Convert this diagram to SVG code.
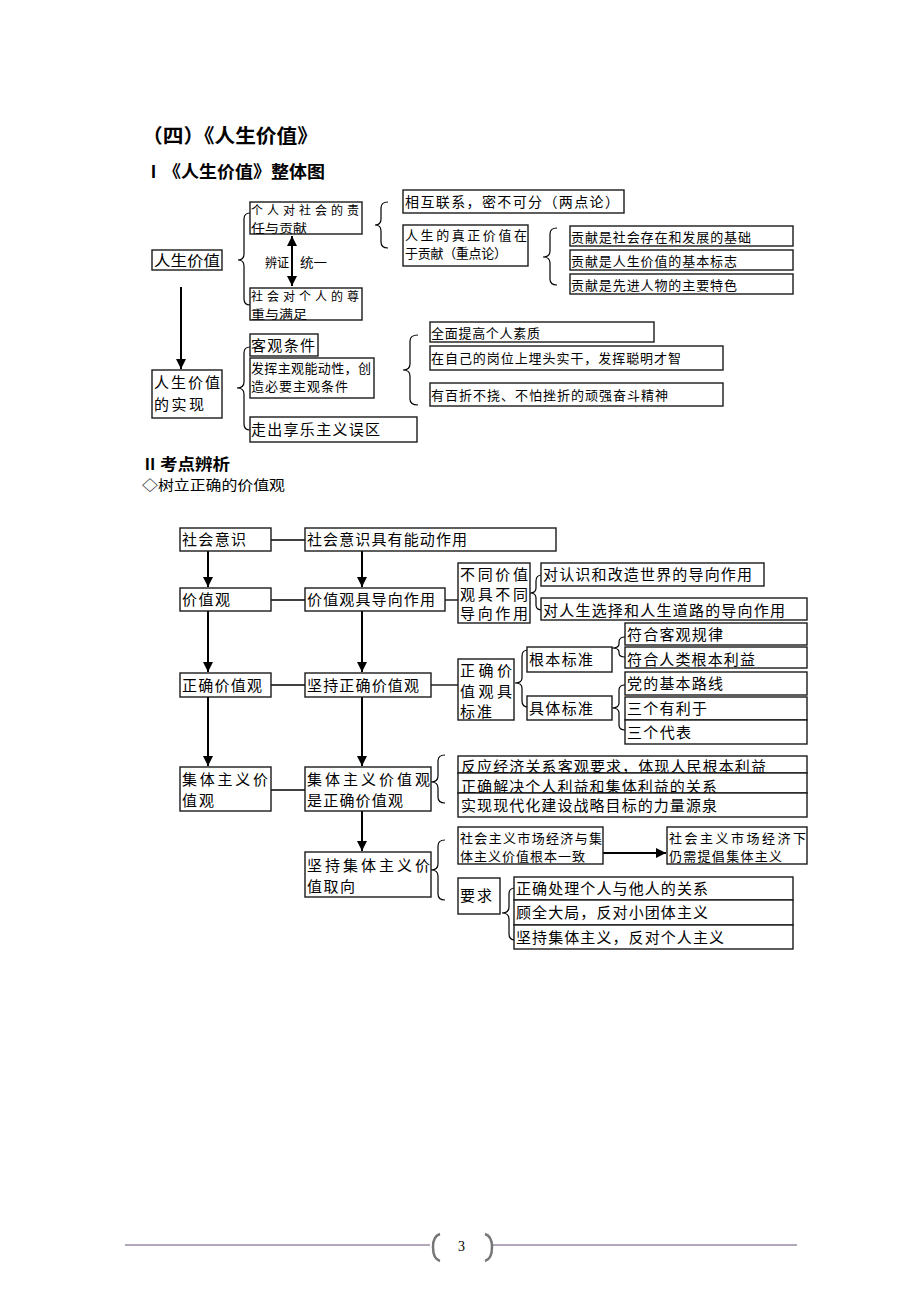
<svg xmlns="http://www.w3.org/2000/svg" width="920" height="1302" viewBox="0 0 920 1302">
<defs>
<style>
.bx{fill:#fff;stroke:#1a1a1a;stroke-width:1.4}
.t{font-family:"Noto Sans CJK SC",sans-serif;fill:#000}
.s12{font-size:12px}
.s13{font-size:13px}
.s14{font-size:14px}
.s15{font-size:15px}
.ln{fill:none;stroke:#000;stroke-width:1.3}
.ar{fill:none;stroke:#000;stroke-width:2}
.br{fill:none;stroke:#000;stroke-width:1.2}
.h{font-family:"Noto Sans CJK SC",sans-serif;font-weight:bold;fill:#000}
.rn{font-family:"Liberation Serif","Noto Sans CJK SC",serif;font-weight:bold;fill:#000}
</style>
<marker id="ah" viewBox="0 0 10 10" refX="10" refY="5" markerWidth="5" markerHeight="5" orient="auto" markerUnits="strokeWidth"><path d="M0,0 L10,5 L0,10 z" fill="#000"/></marker>
<marker id="ahs" viewBox="0 0 10 10" refX="10" refY="5" markerWidth="5" markerHeight="5" orient="auto-start-reverse" markerUnits="strokeWidth"><path d="M0,0 L10,5 L0,10 z" fill="#000"/></marker>
</defs>
<rect width="920" height="1302" fill="#fff"/>

<g id="headings">
<text class="h" x="142" y="143" font-size="19.5" textLength="176" lengthAdjust="spacingAndGlyphs">（四）《人生价值》</text>
<text class="rn" x="145" y="178" font-size="17">Ⅰ</text>
<text class="h" x="163" y="178" font-size="17" textLength="162" lengthAdjust="spacingAndGlyphs">《人生价值》整体图</text>
<text class="rn" x="142" y="470" font-size="16">Ⅱ</text>
<text class="h" x="160" y="470" font-size="16" textLength="70" lengthAdjust="spacingAndGlyphs">考点辨析</text>
<text class="t s14" x="142" y="490" textLength="143" lengthAdjust="spacingAndGlyphs">◇树立正确的价值观</text>
</g>

<g id="connectors">
<line class="ar" x1="292" y1="236" x2="292" y2="286" marker-start="url(#ahs)" marker-end="url(#ah)"/>
<line class="ar" x1="181" y1="287" x2="181" y2="369" marker-end="url(#ah)"/>
<line class="ar" x1="208" y1="551" x2="208" y2="587" marker-end="url(#ah)"/>
<line class="ar" x1="208" y1="611" x2="208" y2="672" marker-end="url(#ah)"/>
<line class="ar" x1="208" y1="697" x2="208" y2="766" marker-end="url(#ah)"/>
<line class="ar" x1="362" y1="551" x2="362" y2="587" marker-end="url(#ah)"/>
<line class="ar" x1="362" y1="611" x2="362" y2="672" marker-end="url(#ah)"/>
<line class="ar" x1="362" y1="697" x2="362" y2="766" marker-end="url(#ah)"/>
<line class="ar" x1="362" y1="811" x2="362" y2="851" marker-end="url(#ah)"/>
<line class="ln" x1="271" y1="540" x2="305" y2="540"/>
<line class="ln" x1="271" y1="600" x2="305" y2="600"/>
<line class="ln" x1="445" y1="600" x2="458" y2="600"/>
<line class="ln" x1="271" y1="685" x2="305" y2="685"/>
<line class="ln" x1="431" y1="685" x2="458" y2="685"/>
<line class="ln" x1="271" y1="790" x2="305" y2="790"/>
<line class="ar" x1="598" y1="853" x2="666" y2="853" marker-end="url(#ah)"/>
<g id="braces">
<path class="br" d="M250,213 Q244,213 244,219 L244,254 Q244,260 238,260 Q244,260 244,266 L244,299 Q244,305 250,305"/>
<path class="br" d="M388,202 Q381,202 381,208 L381,219 Q381,225 375,225 Q381,225 381,231 L381,242 Q381,248 388,248"/>
<path class="br" d="M557,228 Q550,228 550,234 L550,251 Q550,257 543,257 Q550,257 550,263 L550,279 Q550,285 557,285"/>
<path class="br" d="M250,347 Q244,347 244,353 L244,382 Q244,388 237,388 Q244,388 244,394 L244,424 Q244,430 250,430"/>
<path class="br" d="M418,335 Q410,335 410,341 L410,364 Q410,370 403,370 Q410,370 410,376 L410,399 Q410,405 418,405"/>
<path class="br" d="M542,575 Q536,575 536,581 L536,588 Q536,593 530,593 Q536,593 536,598 L536,605 Q536,610 542,610"/>
<path class="br" d="M528,650 Q522,650 522,656 L522,678 Q522,683 515,683 Q522,683 522,688 L522,701 Q522,707 528,707"/>
<path class="br" d="M625,637 Q619,637 619,642 L619,644 Q619,648 612,648 Q619,648 619,652 L619,653 Q619,657 625,657"/>
<path class="br" d="M625,685 Q619,685 619,690 L619,703 Q619,708 612,708 Q619,708 619,713 L619,725 Q619,730 625,730"/>
<path class="br" d="M445,755 Q438,755 438,761 L438,776 Q438,782 431,782 Q438,782 438,788 L438,797 Q438,803 445,803"/>
<path class="br" d="M445,840 Q438,840 438,846 L438,864 Q438,870 431,870 Q438,870 438,876 L438,894 Q438,900 445,900"/>
<path class="br" d="M515,888 Q509,888 509,894 L509,907 Q509,913 502,913 Q509,913 509,919 L509,934 Q509,940 515,940"/>
</g>
</g>

<g id="n-rsjz">
<rect class="bx" x="152" y="250" width="70" height="20"/>
<text class="t s15" x="154" y="266" textLength="66" lengthAdjust="spacingAndGlyphs">人生价值</text>
</g>
<g id="n-grdsh">
<rect class="bx" x="250" y="202" width="112" height="32"/>
<text class="t s12" x="251" y="215" textLength="108" lengthAdjust="spacing">个人对社会的责</text>
<text class="t s12" x="251" y="233" textLength="56" lengthAdjust="spacingAndGlyphs">任与贡献</text>
</g>
<g id="n-bzty">
<text class="t s13" x="265" y="267" textLength="24" lengthAdjust="spacingAndGlyphs">辨证</text>
<text class="t s13" x="300" y="267" textLength="27" lengthAdjust="spacingAndGlyphs">统一</text>
</g>
<g id="n-shdgr">
<rect class="bx" x="250" y="288" width="112" height="32"/>
<text class="t s12" x="251" y="301" textLength="108" lengthAdjust="spacing">社会对个人的尊</text>
<text class="t s12" x="251" y="319" textLength="56" lengthAdjust="spacingAndGlyphs">重与满足</text>
</g>
<g id="n-xhlx">
<rect class="bx" x="403" y="190" width="221" height="23"/>
<text class="t s14" x="405" y="207" textLength="214" lengthAdjust="spacing">相互联系，密不可分（两点论）</text>
</g>
<g id="n-zzjz">
<rect class="bx" x="403" y="225" width="125" height="41"/>
<text class="t s13" x="405" y="240" textLength="122" lengthAdjust="spacing">人生的真正价值在</text>
<text class="t s13" x="405" y="258" textLength="102" lengthAdjust="spacing">于贡献（重点论）</text>
</g>
<g id="n-gx1">
<rect class="bx" x="570" y="226" width="223" height="20"/>
<text class="t s13" x="571" y="242" textLength="180" lengthAdjust="spacing">贡献是社会存在和发展的基础</text>
</g>
<g id="n-gx2">
<rect class="bx" x="570" y="250" width="223" height="20"/>
<text class="t s13" x="571" y="266" textLength="166" lengthAdjust="spacing">贡献是人生价值的基本标志</text>
</g>
<g id="n-gx3">
<rect class="bx" x="570" y="274" width="223" height="20"/>
<text class="t s13" x="571" y="290" textLength="166" lengthAdjust="spacing">贡献是先进人物的主要特色</text>
</g>

<g id="n-sx">
<rect class="bx" x="152" y="370" width="70" height="48"/>
<text class="t s15" x="154" y="388" textLength="66" lengthAdjust="spacing">人生价值</text>
<text class="t s15" x="154" y="410" textLength="50" lengthAdjust="spacing">的实现</text>
</g>
<g id="n-kgtj">
<rect class="bx" x="250" y="334" width="68" height="22"/>
<text class="t s15" x="251" y="351" textLength="64" lengthAdjust="spacing">客观条件</text>
</g>
<g id="n-zgtj">
<rect class="bx" x="250" y="358" width="124" height="40"/>
<text class="t s13" x="251" y="373" textLength="120" lengthAdjust="spacing">发挥主观能动性，创</text>
<text class="t s13" x="251" y="391" textLength="97" lengthAdjust="spacing">造必要主观条件</text>
</g>
<g id="n-xlzy">
<rect class="bx" x="250" y="417" width="167" height="25"/>
<text class="t s15" x="251" y="435" textLength="129" lengthAdjust="spacing">走出享乐主义误区</text>
</g>
<g id="n-qmtg">
<rect class="bx" x="430" y="322" width="224" height="20"/>
<text class="t s13" x="431" y="338" textLength="109" lengthAdjust="spacing">全面提高个人素质</text>
</g>
<g id="n-mtsg">
<rect class="bx" x="430" y="346" width="293" height="24"/>
<text class="t s13" x="431" y="363" textLength="250" lengthAdjust="spacing">在自己的岗位上埋头实干，发挥聪明才智</text>
</g>
<g id="n-bzbn">
<rect class="bx" x="430" y="383" width="293" height="23"/>
<text class="t s13" x="431" y="400" textLength="237" lengthAdjust="spacing">有百折不挠、不怕挫折的顽强奋斗精神</text>
</g>

<g id="n-shys">
<rect class="bx" x="180" y="528" width="91" height="23"/>
<text class="t s15" x="182" y="545" textLength="64" lengthAdjust="spacing">社会意识</text>
</g>
<g id="n-shysnd">
<rect class="bx" x="305" y="528" width="251" height="23"/>
<text class="t s15" x="307" y="545" textLength="160" lengthAdjust="spacing">社会意识具有能动作用</text>
</g>
<g id="n-jzg">
<rect class="bx" x="180" y="588" width="91" height="23"/>
<text class="t s15" x="182" y="605" textLength="48" lengthAdjust="spacing">价值观</text>
</g>
<g id="n-jzgdx">
<rect class="bx" x="305" y="588" width="140" height="23"/>
<text class="t s15" x="307" y="605" textLength="128" lengthAdjust="spacing">价值观具导向作用</text>
</g>
<g id="n-btjz">
<rect class="bx" x="458" y="563" width="72" height="60"/>
<text class="t s15" x="460" y="580" textLength="68" lengthAdjust="spacing">不同价值</text>
<text class="t s15" x="460" y="600" textLength="68" lengthAdjust="spacing">观具不同</text>
<text class="t s15" x="460" y="619" textLength="68" lengthAdjust="spacing">导向作用</text>
</g>
<g id="n-dx1">
<rect class="bx" x="541" y="563" width="223" height="23"/>
<text class="t s15" x="543" y="580" textLength="209" lengthAdjust="spacing">对认识和改造世界的导向作用</text>
</g>
<g id="n-dx2">
<rect class="bx" x="541" y="598" width="266" height="22"/>
<text class="t s15" x="543" y="616" textLength="242" lengthAdjust="spacing">对人生选择和人生道路的导向作用</text>
</g>
<g id="n-zqjzg">
<rect class="bx" x="180" y="673" width="91" height="24"/>
<text class="t s15" x="182" y="691" textLength="80" lengthAdjust="spacing">正确价值观</text>
</g>
<g id="n-jczq">
<rect class="bx" x="305" y="673" width="126" height="24"/>
<text class="t s15" x="307" y="691" textLength="112" lengthAdjust="spacing">坚持正确价值观</text>
</g>
<g id="n-bz">
<rect class="bx" x="458" y="659" width="56" height="61"/>
<text class="t s15" x="460" y="676" textLength="52" lengthAdjust="spacing">正确价</text>
<text class="t s15" x="460" y="697" textLength="52" lengthAdjust="spacing">值观具</text>
<text class="t s15" x="460" y="717" textLength="32" lengthAdjust="spacing">标准</text>
</g>
<g id="n-gbbz">
<rect class="bx" x="527" y="647" width="85" height="25"/>
<text class="t s15" x="529" y="665" textLength="64" lengthAdjust="spacing">根本标准</text>
</g>
<g id="n-jtbz">
<rect class="bx" x="527" y="696" width="85" height="24"/>
<text class="t s15" x="529" y="714" textLength="64" lengthAdjust="spacing">具体标准</text>
</g>
<g id="n-fh1">
<rect class="bx" x="625" y="623" width="182" height="22"/>
<text class="t s15" x="627" y="640" textLength="96" lengthAdjust="spacing">符合客观规律</text>
</g>
<g id="n-fh2">
<rect class="bx" x="625" y="647" width="182" height="21"/>
<text class="t s15" x="627" y="665" textLength="128" lengthAdjust="spacing">符合人类根本利益</text>
</g>
<g id="n-jt1">
<rect class="bx" x="625" y="672" width="182" height="23"/>
<text class="t s15" x="627" y="689" textLength="96" lengthAdjust="spacing">党的基本路线</text>
</g>
<g id="n-jt2">
<rect class="bx" x="625" y="697" width="182" height="23"/>
<text class="t s15" x="627" y="714" textLength="80" lengthAdjust="spacing">三个有利于</text>
</g>
<g id="n-jt3">
<rect class="bx" x="625" y="720" width="182" height="24"/>
<text class="t s15" x="627" y="738" textLength="64" lengthAdjust="spacing">三个代表</text>
</g>
<g id="n-jtzy">
<rect class="bx" x="180" y="767" width="91" height="44"/>
<text class="t s15" x="182" y="785" textLength="86" lengthAdjust="spacing">集体主义价</text>
<text class="t s15" x="182" y="806" textLength="32" lengthAdjust="spacing">值观</text>
</g>
<g id="n-jtzyzq">
<rect class="bx" x="305" y="767" width="126" height="44"/>
<text class="t s15" x="307" y="785" textLength="123" lengthAdjust="spacing">集体主义价值观</text>
<text class="t s15" x="307" y="806" textLength="96" lengthAdjust="spacing">是正确价值观</text>
</g>
<g id="n-r1">
<rect class="bx" x="458" y="756" width="349" height="17"/>
<text class="t s15" x="461" y="772" textLength="305" lengthAdjust="spacing">反应经济关系客观要求，体现人民根本利益</text>
</g>
<g id="n-r2">
<rect class="bx" x="458" y="773" width="349" height="20"/>
<text class="t s15" x="461" y="792" textLength="256" lengthAdjust="spacing">正确解决个人利益和集体利益的关系</text>
</g>
<g id="n-r3">
<rect class="bx" x="458" y="793" width="349" height="24"/>
<text class="t s15" x="461" y="811" textLength="256" lengthAdjust="spacing">实现现代化建设战略目标的力量源泉</text>
</g>
<g id="n-jcjt">
<rect class="bx" x="305" y="852" width="126" height="45"/>
<text class="t s15" x="307" y="871" textLength="123" lengthAdjust="spacing">坚持集体主义价</text>
<text class="t s15" x="307" y="892" textLength="48" lengthAdjust="spacing">值取向</text>
</g>
<g id="n-sc1">
<rect class="bx" x="458" y="827" width="145" height="37"/>
<text class="t s13" x="460" y="843" textLength="142" lengthAdjust="spacing">社会主义市场经济与集</text>
<text class="t s13" x="460" y="861" textLength="125" lengthAdjust="spacing">体主义价值根本一致</text>
</g>
<g id="n-sc2">
<rect class="bx" x="667" y="827" width="140" height="37"/>
<text class="t s13" x="669" y="843" textLength="137" lengthAdjust="spacing">社会主义市场经济下</text>
<text class="t s13" x="669" y="861" textLength="113" lengthAdjust="spacing">仍需提倡集体主义</text>
</g>
<g id="n-yq">
<rect class="bx" x="458" y="878" width="42" height="36"/>
<text class="t s15" x="460" y="901" textLength="32" lengthAdjust="spacing">要求</text>
</g>
<g id="n-yq1">
<rect class="bx" x="514" y="877" width="279" height="23"/>
<text class="t s15" x="516" y="894" textLength="192" lengthAdjust="spacing">正确处理个人与他人的关系</text>
</g>
<g id="n-yq2">
<rect class="bx" x="514" y="900" width="279" height="25"/>
<text class="t s15" x="516" y="918" textLength="192" lengthAdjust="spacing">顾全大局，反对小团体主义</text>
</g>
<g id="n-yq3">
<rect class="bx" x="514" y="925" width="279" height="24"/>
<text class="t s15" x="516" y="943" textLength="208" lengthAdjust="spacing">坚持集体主义，反对个人主义</text>
</g>

<g id="footer">
<line x1="125" y1="1245" x2="430" y2="1245" stroke="#9a8aa0" stroke-width="1.5"/>
<line x1="492" y1="1245" x2="797" y2="1245" stroke="#9a8aa0" stroke-width="1.5"/>
<path d="M440,1234 Q433,1236 433,1247 Q433,1259 440,1261" fill="none" stroke="#777" stroke-width="2.5"/>
<path d="M485,1234 Q492,1236 492,1247 Q492,1259 485,1261" fill="none" stroke="#777" stroke-width="2.5"/>
<text x="458" y="1251" font-family="Liberation Serif, serif" font-size="14" fill="#000">3</text>
</g>
</svg>
